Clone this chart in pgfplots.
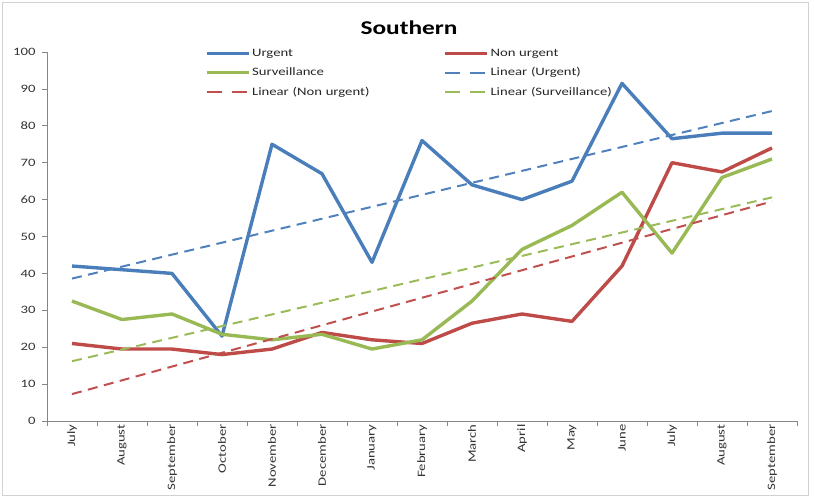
\documentclass[border=0pt]{standalone}
\usepackage{pgfplots}
\pgfplotsset{compat=1.18}
\usepackage{fontspec}
\setmainfont{Carlito}[FakeStretch=1.3]
\definecolor{cU}{HTML}{4A7EBB}
\definecolor{cN}{HTML}{BE4B48}
\definecolor{cS}{HTML}{98B954}
\definecolor{tU}{HTML}{4F81BD}
\definecolor{tN}{HTML}{C0504D}
\definecolor{tS}{HTML}{9BBB59}
\definecolor{axgray}{HTML}{868686}
\pgfplotsset{
  solidleg/.style={legend image code/.code={\draw[##1] (0pt,0pt) -- (42pt,0pt);}},
  dashleg/.style={legend image code/.code={\draw[##1, dash pattern=on 15pt off 10pt] (0pt,0pt) -- (42pt,0pt);}},
}
\begin{document}
\begin{tikzpicture}[x=1pt,y=1pt]
\begin{axis}[
  at={(0,0)}, anchor=south west,
  scale only axis, width=750pt, height=369pt,
  xmin=-0.5, xmax=14.5, ymin=0, ymax=100,
  axis x line*=bottom, axis y line*=left,
  axis line style={axgray, line width=0.8pt},
  every tick/.style={axgray, line width=0.8pt},
  tick align=outside, major tick length=5pt,
  ytick={0,10,...,100},
  /pgf/number format/assume math mode=true,
  yticklabel style={font=\fontsize{11.3}{13}\selectfont, text=black!80},
  yticklabel shift=3pt,
  xtick={-0.5,0.5,...,14.5},
  xticklabels={},
  extra x ticks={0,1,...,14},
  extra x tick labels={July,August,September,October,November,December,January,February,March,April,May,June,July,August,September},
  extra x tick style={major tick length=0pt, tick label style={rotate=90, anchor=east, font=\fontsize{11.3}{13}\selectfont, text=black!80}},
  legend columns=2,
  legend cell align=left,
  legend style={at={(0.2107,1.012)}, anchor=north west, draw=none, fill=none,
    inner sep=0pt, row sep=6.6pt,
    font=\fontsize{11.3}{13}\selectfont, text=black!85,
    nodes={text width=190pt, inner sep=1.5pt}},
  solidleg,
  line join=round,
]
\addplot[cU, line width=3.4pt] coordinates {(0,42) (1,41) (2,40) (3,23) (4,75) (5,67) (6,43) (7,76) (8,64) (9,60) (10,65) (11,91.5) (12,76.5) (13,78) (14,78)};
\addlegendentry{Urgent}
\addplot[cN, line width=3.4pt] coordinates {(0,21) (1,19.5) (2,19.5) (3,18) (4,19.5) (5,24) (6,22) (7,21) (8,26.5) (9,29) (10,27) (11,42) (12,70) (13,67.5) (14,74)};
\addlegendentry{Non urgent}
\addplot[cS, line width=3.4pt] coordinates {(0,32.5) (1,27.5) (2,29) (3,23.5) (4,22) (5,23.5) (6,19.5) (7,22) (8,32.5) (9,46.5) (10,53) (11,62) (12,45.5) (13,66) (14,71)};
\addlegendentry{Surveillance}
\addplot[tU, line width=2pt, dash pattern=on 10pt off 6.5pt, dashleg] coordinates {(0,38.6) (14,84.0)};
\addlegendentry{Linear (Urgent)}
\addplot[tN, line width=2pt, dash pattern=on 10pt off 6.5pt, dashleg] coordinates {(0,7.3) (14,59.5)};
\addlegendentry{Linear (Non urgent)}
\addplot[tS, line width=2pt, dash pattern=on 10pt off 6.5pt, dashleg] coordinates {(0,16.2) (14,60.6)};
\addlegendentry{Linear (Surveillance)}
\end{axis}
\node[font=\fontsize{19.5}{22}\selectfont\bfseries] at (362,393) {Southern};
\draw[gray!35, line width=1pt] (-44,-74) rectangle (761,418);
\path (-47,-75) rectangle (767,421);
\end{tikzpicture}
\end{document}
